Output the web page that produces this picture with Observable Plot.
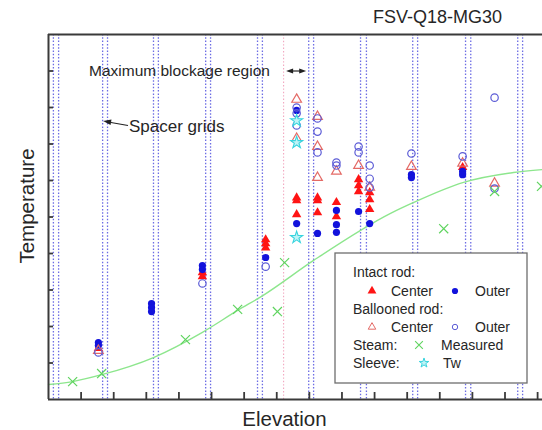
<!DOCTYPE html>
<html><head><meta charset="utf-8">
<script src="https://cdn.jsdelivr.net/npm/d3@7"></script>
<script src="https://cdn.jsdelivr.net/npm/@observablehq/plot@0.6"></script>
<style>
body{margin:0;background:#fff;}
#chart{width:542px;height:430px;overflow:hidden;}
</style>
</head><body><div id="chart"></div>
<script>
// ---- texts ----
const title = "FSV-Q18-MG30";
const xLabel = "Elevation";
const yLabel = "Temperature";
const blockageLabel = "Maximum blockage region";
const gridLabel = "Spacer grids";
const legendRows = ["Intact rod:", "Ballooned rod:", "Steam:", "Sleeve:"];
const legendNames = ["Center", "Outer", "Measured", "Tw"];

// ---- axis ticks (no labels in the original) ----
const xTicks = d3.range(1, 16);
const yTicks = d3.range(1, 10);
const xDomain = [0, 15.15];
const yDomain = [0, 10];

// ---- spacer grid positions (pairs of dotted lines) and blockage edge ----
const spacerGrids = [0.15, 0.31, 1.66, 1.81, 3.22, 3.37, 4.82, 4.97, 6.41, 6.56,
                     7.98, 8.13, 9.57, 9.75, 11.17, 11.32, 12.79, 12.95, 14.39, 14.54];
const blockageEdge = [7.21];

// ---- series [elevation, temperature] ----
const intactCenter = [
  [1.53,1.40],
  [4.72,3.48],[4.72,3.37],
  [6.66,4.38],[6.66,4.27],[6.66,4.16],
  [7.61,5.53],[7.61,5.45],[7.61,5.07],
  [8.25,5.53],[8.25,5.45],[8.25,5.12],
  [8.83,5.40],[8.83,5.01],
  [9.51,6.03],[9.51,5.86],[9.51,5.70],
  [9.85,5.67],[9.85,5.48],[9.85,5.21],
  [12.70,6.36]
];
const intactOuter = [
  [1.53,1.56],[1.53,1.48],
  [3.16,2.63],[3.16,2.52],[3.16,2.41],
  [4.72,3.67],[4.72,3.56],
  [6.66,3.89],
  [7.61,7.92],[7.61,4.82],
  [8.25,4.55],
  [8.83,5.18],[8.83,4.79],[8.83,4.58],
  [9.51,5.15],
  [9.85,4.82],
  [11.13,6.16],[11.13,6.08],
  [12.70,6.25],[12.70,6.16]
];
const balloonCenter = [
  [1.53,1.34],
  [7.61,8.22],[7.61,7.15],
  [8.25,7.75],[8.25,6.93],[8.25,6.08],
  [8.83,6.25],
  [9.51,6.41],
  [9.85,5.81],
  [11.13,6.38],
  [12.70,6.47],
  [13.68,5.92]
];
const balloonOuter = [
  [1.53,1.29],
  [4.72,3.18],
  [6.66,3.64],
  [7.61,8.00],[7.61,7.84],[7.61,7.51],
  [8.25,7.70],[8.25,7.34],[8.25,6.77],
  [8.83,6.49],[8.83,6.41],
  [9.51,6.93],[9.51,6.77],
  [9.85,6.41],[9.85,6.05],[9.85,5.81],
  [11.13,6.74],
  [12.70,6.66],
  [13.68,8.27],[13.68,5.78]
];
const steamMeasured = [
  [0.74,0.49],[1.63,0.71],[4.20,1.64],[5.80,2.47],[7.02,2.41],
  [7.24,3.75],[12.12,4.68],[13.68,5.70],[15.12,5.84]
];
const sleeveTw = [[7.61,7.64],[7.61,7.04],[7.61,4.44]];
const steamFit = [
  [0,0.41],[0.74,0.49],[1.63,0.68],[3.22,1.15],[4.72,1.84],[5.80,2.44],
  [6.56,2.84],[8.13,3.81],[10.49,5.10],[11.20,5.40],[12.73,5.95],[14.26,6.22],[15.15,6.30]
];

// ---- styles ----
const C = {
  red: "#ff1414", blue: "#1212dc", redOpen: "#e46a66", blueOpen: "#5c5cd6",
  steam: "#5fd45f", fit: "#8de68d", cyan: "#38d4de", cyanFill: "#bff3f6",
  grid: "#6c6ce4", pink: "#f2a6bf", axis: "#3a3a3a", text: "#262626"
};
const W = 542, H = 430, ML = 48, MR = 0, MT = 34, MB = 31;
const plotW = W - ML - MR, plotH = H - MT - MB;
const FONT = "'Liberation Sans', Arial, Helvetica, sans-serif";

const plot = Plot.plot({
  width: W, height: H,
  marginLeft: ML, marginRight: MR, marginTop: MT, marginBottom: MB,
  x: {domain: xDomain, axis: null},
  y: {domain: yDomain, axis: null},
  style: {background: "#fff"},
  marks: [
    Plot.ruleX(spacerGrids, {x: d => d, stroke: C.grid, strokeWidth: 1.3, strokeDasharray: "1.5,1.8"}),
    Plot.ruleX(blockageEdge, {x: d => d, stroke: C.pink, strokeWidth: 1.1, strokeDasharray: "1.4,2"}),
    Plot.line(steamFit, {x: d => d[0], y: d => d[1], stroke: C.fit, strokeWidth: 1.4, curve: "monotone-x"}),
    Plot.dot(intactCenter, {x: d => d[0], y: d => d[1], symbol: "triangle", r: 3.5, fill: C.red}),
    Plot.dot(intactOuter, {x: d => d[0], y: d => d[1], symbol: "circle", r: 3.6, fill: C.blue}),
    Plot.dot(balloonCenter, {x: d => d[0], y: d => d[1], symbol: "triangle", r: 3.6, fill: "none", stroke: C.redOpen, strokeWidth: 1.2}),
    Plot.dot(balloonOuter, {x: d => d[0], y: d => d[1], symbol: "circle", r: 3.7, fill: "none", stroke: C.blueOpen, strokeWidth: 1.2}),
    Plot.dot(steamMeasured, {x: d => d[0], y: d => d[1], symbol: "times", r: 4.2, stroke: C.steam, strokeWidth: 1.2}),
    Plot.dot(sleeveTw, {x: d => d[0], y: d => d[1], symbol: "star", r: 3.8, fill: C.cyanFill, stroke: C.cyan, strokeWidth: 1.1}),
    // frame (top, bottom, left)
    Plot.ruleY([yDomain[0], yDomain[1]], {y: d => d, stroke: C.axis, strokeWidth: 2}),
    Plot.ruleX([xDomain[0]], {x: d => d, stroke: C.axis, strokeWidth: 2}),
    // inward ticks
    Plot.tickX(xTicks, {x: d => d, stroke: C.axis, strokeWidth: 1.8, insetTop: plotH - 7}),
    Plot.tickY(yTicks, {y: d => d, stroke: C.axis, strokeWidth: 1.8, insetRight: plotW - 5})
  ]
});
document.getElementById("chart").appendChild(plot);

const svg = d3.select(plot);
const sx = plot.scale("x"), sy = plot.scale("y");
function text(x, y, s, size, opts = {}) {
  const t = svg.append("text").attr("x", x).attr("y", y).text(s)
    .attr("font-family", FONT).attr("font-size", size).attr("fill", opts.fill || C.text)
    .attr("text-anchor", opts.anchor || "start");
  if (opts.rotate) t.attr("transform", `rotate(${opts.rotate},${x},${y})`);
  return t;
}
function arrowHead(tipX, tipY, angle, len, half) {
  const bx = tipX - Math.cos(angle) * len, by = tipY - Math.sin(angle) * len;
  const nx = -Math.sin(angle) * half, ny = Math.cos(angle) * half;
  svg.append("path").attr("d", `M${tipX},${tipY}L${bx + nx},${by + ny}L${bx - nx},${by - ny}Z`).attr("fill", "#222");
}

// title and axis labels
text(437.5, 23, title, 18, {anchor: "middle"});
text(284.5, 426, xLabel, 20.5, {anchor: "middle"});
text(34, 206, yLabel, 20.5, {anchor: "middle", rotate: -90});

// annotations
text(89, 76, blockageLabel, 15.5);
{
  const x1 = sx.apply(blockageEdge[0]) + 3, x2 = sx.apply(spacerGrids[10]) - 2, y = 71;
  svg.append("line").attr("x1", x1 + 4).attr("x2", x2 - 4).attr("y1", y).attr("y2", y).attr("stroke", "#222").attr("stroke-width", 1.2);
  arrowHead(x1, y, Math.PI, 7, 2.6);
  arrowHead(x2, y, 0, 7, 2.6);
}
text(129, 132, gridLabel, 17);
{
  const tipX = sx.apply(spacerGrids[2]) + 1, tipY = 121;
  svg.append("line").attr("x1", 128).attr("y1", 125.5).attr("x2", tipX + 5).attr("y2", tipY + 1).attr("stroke", "#222").attr("stroke-width", 1.2);
  arrowHead(tipX, tipY, Math.atan2(-4, -24), 8, 2.8);
}

// legend
{
  const g = svg.append("g");
  g.append("rect").attr("x", 335).attr("y", 253).attr("width", 192).attr("height", 130)
    .attr("fill", "#fff").attr("stroke", "#6e6e6e").attr("stroke-width", 1.3);
  const lx = 353, fs = 14;
  const base = [277, 296, 314, 332, 350, 368];
  text(lx, base[0], legendRows[0], fs);
  text(lx, base[2], legendRows[1], fs);
  text(lx, base[4], legendRows[2], fs);
  text(lx, base[5], legendRows[3], fs);
  text(391, base[1], legendNames[0], fs);
  text(475, base[1], legendNames[1], fs);
  text(391, base[3], legendNames[0], fs);
  text(475, base[3], legendNames[1], fs);
  text(441, base[4], legendNames[2], fs);
  text(443, base[5], legendNames[3], fs);
  const sym = (type, r, x, y, fill, stroke, sw) => {
    g.append("path").attr("d", d3.symbol(type, Math.PI * r * r)())
      .attr("transform", `translate(${x},${y})`)
      .attr("fill", fill).attr("stroke", stroke || "none").attr("stroke-width", sw || 1);
  };
  sym(d3.symbolTriangle, 3.3, 372, base[1] - 5, C.red);
  sym(d3.symbolCircle, 3.1, 455, base[1] - 5, C.blue);
  sym(d3.symbolTriangle, 2.8, 372, base[3] - 5, "none", C.redOpen, 1);
  sym(d3.symbolCircle, 2.7, 455, base[3] - 5, "none", C.blueOpen, 1);
  sym(d3.symbolTimes, 3.6, 419, base[4] - 5, "none", C.steam, 1.1);
  sym(d3.symbolStar, 3.0, 424, base[5] - 5, C.cyanFill, C.cyan, 1);
}
</script>
</body></html>
